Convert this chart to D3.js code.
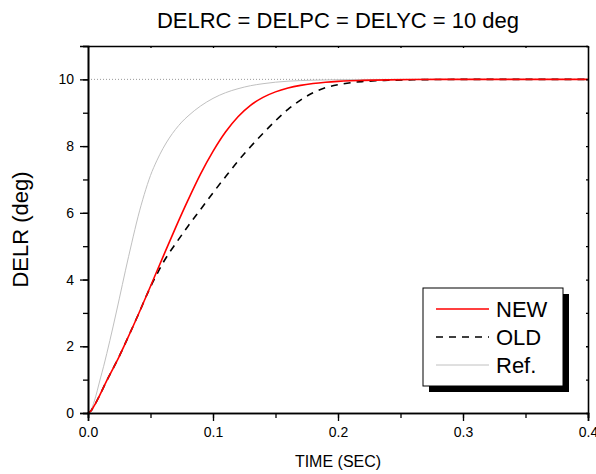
<!DOCTYPE html>
<html>
<head>
<meta charset="utf-8">
<script src="https://cdn.jsdelivr.net/npm/d3@7"></script>
<style>
  body { margin: 0; background: #fff; }
  text { font-family: "Liberation Sans", Arial, sans-serif; }
</style>
</head>
<body>
<div id="chart"></div>
<script>
// step responses
var time_new = [0, 0.0025, 0.005, 0.01, 0.015, 0.02, 0.025, 0.03, 0.04, 0.05, 0.06, 0.07, 0.08, 0.09, 0.1, 0.11, 0.12, 0.13, 0.14, 0.15, 0.16, 0.17, 0.18, 0.19, 0.2, 0.21, 0.22, 0.24, 0.26, 0.3, 0.4];
var delr_new = [0, 0.07, 0.22, 0.58, 0.97, 1.33, 1.7, 2.1, 2.93, 3.8, 4.68, 5.55, 6.38, 7.16, 7.84, 8.42, 8.88, 9.22, 9.46, 9.625, 9.74, 9.82, 9.875, 9.913, 9.939, 9.957, 9.97, 9.986, 9.994, 10, 10];

var time_old = [0, 0.0025, 0.005, 0.01, 0.015, 0.02, 0.025, 0.03, 0.04, 0.05, 0.055, 0.06, 0.065, 0.07, 0.08, 0.09, 0.1, 0.11, 0.12, 0.13, 0.14, 0.15, 0.16, 0.17, 0.18, 0.19, 0.2, 0.21, 0.22, 0.23, 0.24, 0.26, 0.28, 0.3, 0.4];
var delr_old = [0, 0.07, 0.22, 0.58, 0.97, 1.33, 1.7, 2.1, 2.93, 3.78, 4.15, 4.5, 4.8, 5.07, 5.6, 6.1, 6.6, 7.08, 7.55, 7.98, 8.38, 8.76, 9.1, 9.38, 9.6, 9.75, 9.84, 9.9, 9.935, 9.958, 9.972, 9.988, 9.995, 10, 10];

var time_ref = [0, 0.0025, 0.005, 0.01, 0.0125, 0.015, 0.02, 0.025, 0.03, 0.035, 0.04, 0.045, 0.05, 0.055, 0.06, 0.065, 0.07, 0.075, 0.08, 0.085, 0.09, 0.1, 0.11, 0.12, 0.13, 0.14, 0.15, 0.16, 0.18, 0.2, 0.25, 0.4];
var delr_ref = [0, 0.1, 0.35, 1.05, 1.4, 1.78, 2.58, 3.42, 4.28, 5.1, 5.88, 6.55, 7.12, 7.56, 7.93, 8.24, 8.5, 8.72, 8.9, 9.06, 9.2, 9.43, 9.6, 9.72, 9.81, 9.87, 9.915, 9.945, 9.975, 9.99, 10, 10];

var x_ticks = [0, 0.1, 0.2, 0.3, 0.4];
var y_ticks = [0, 2, 4, 6, 8, 10];
var command = 10;

var margin = {top: 46, right: 8, bottom: 61, left: 88},
    width = 596 - margin.left - margin.right,
    height = 474 - margin.top - margin.bottom;

var svg = d3.select("#chart").append("svg")
    .attr("width", 596).attr("height", 474)
  .append("g")
    .attr("transform", "translate(" + margin.left + "," + margin.top + ")");

var x = d3.scaleLinear().domain([0, 0.4]).range([0, width]);
var y = d3.scaleLinear().domain([0, 11]).range([height, 0]);

// dotted command level
svg.append("line")
  .attr("x1", 0).attr("x2", width)
  .attr("y1", y(command)).attr("y2", y(command))
  .attr("stroke", "#999").attr("stroke-width", 1)
  .attr("stroke-dasharray", "1,2");

function series(tt, vv) {
  return tt.map(function(t, i) { return [t, vv[i]]; });
}
var line = d3.line()
  .x(function(d) { return x(d[0]); })
  .y(function(d) { return y(d[1]); })
  .curve(d3.curveMonotoneX);

svg.append("path").datum(series(time_ref, delr_ref))
  .attr("d", line).attr("fill", "none")
  .attr("stroke", "#c0c0c0").attr("stroke-width", 1);
svg.append("path").datum(series(time_old, delr_old))
  .attr("d", line).attr("fill", "none")
  .attr("stroke", "#000").attr("stroke-width", 1.6)
  .attr("stroke-dasharray", "7,6");
svg.append("path").datum(series(time_new, delr_new))
  .attr("d", line).attr("fill", "none")
  .attr("stroke", "#ff0000").attr("stroke-width", 1.6);

// axes: bottom / left with outward ticks
var xMinor = d3.range(0, 0.4001, 0.05);
var yMinor = d3.range(0, 11.001, 1);

svg.append("g").attr("transform", "translate(0," + height + ")")
  .call(d3.axisBottom(x).tickValues(xMinor).tickSize(5).tickFormat(""));
svg.append("g").attr("transform", "translate(0," + height + ")")
  .call(d3.axisBottom(x).tickValues(x_ticks).tickSize(8).tickPadding(6)
    .tickFormat(d3.format(".1f")));
svg.append("g")
  .call(d3.axisLeft(y).tickValues(yMinor).tickSize(5).tickFormat(""));
svg.append("g")
  .call(d3.axisLeft(y).tickValues(y_ticks).tickSize(8).tickPadding(6));

// top / right with tiny inward ticks
svg.append("g")
  .call(d3.axisTop(x).tickValues(xMinor).tickSizeInner(-2).tickSizeOuter(0).tickFormat(""));
svg.append("g").attr("transform", "translate(" + width + ",0)")
  .call(d3.axisRight(y).tickValues(yMinor).tickSizeInner(-2).tickSizeOuter(0).tickFormat(""));

svg.selectAll(".domain").attr("stroke", "#000").attr("stroke-width", 1.6);
svg.selectAll(".tick line").attr("stroke", "#000").attr("stroke-width", 1.3);
svg.selectAll(".tick text").attr("font-size", 14).attr("fill", "#000")
  .attr("font-family", "Liberation Sans, Arial, sans-serif");

// titles
svg.append("text")
  .attr("x", width / 2).attr("y", -18)
  .attr("text-anchor", "middle").attr("font-size", 22)
  .text("DELRC = DELPC = DELYC = 10 deg");
svg.append("text")
  .attr("x", width / 2).attr("y", height + 54)
  .attr("text-anchor", "middle").attr("font-size", 16)
  .text("TIME (SEC)");
svg.append("text")
  .attr("transform", "translate(-60," + (height / 2) + ") rotate(-90)")
  .attr("text-anchor", "middle").attr("font-size", 22)
  .text("DELR (deg)");

// legend with drop shadow
var legend = svg.append("g").attr("transform", "translate(" + (423 - margin.left) + "," + (288 - margin.top) + ")");
legend.append("rect").attr("x", 6).attr("y", 6).attr("width", 140).attr("height", 98).attr("fill", "#000");
legend.append("rect").attr("width", 140).attr("height", 98)
  .attr("fill", "#fff").attr("stroke", "#000").attr("stroke-width", 1);

var items = [
  {label: "NEW", color: "#ff0000", dash: null, w: 1.6},
  {label: "OLD", color: "#000", dash: "7,6", w: 1.6},
  {label: "Ref.", color: "#c0c0c0", dash: null, w: 1}
];
items.forEach(function(d, i) {
  var yy = 21 + i * 28;
  legend.append("line")
    .attr("x1", 13).attr("x2", 66).attr("y1", yy).attr("y2", yy)
    .attr("stroke", d.color).attr("stroke-width", d.w)
    .attr("stroke-dasharray", d.dash);
  legend.append("text")
    .attr("x", 73).attr("y", yy + 8)
    .attr("font-size", 22)
    .text(d.label);
});
</script>
</body>
</html>
